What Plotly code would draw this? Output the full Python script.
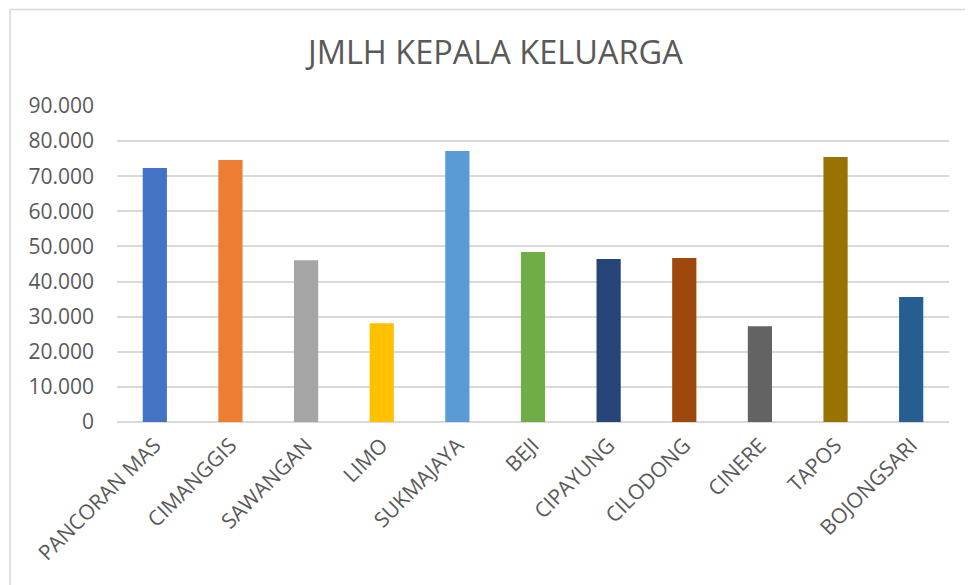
import plotly.graph_objects as go

categories = ["PANCORAN MAS", "CIMANGGIS", "SAWANGAN", "LIMO", "SUKMAJAYA", "BEJI",
              "CIPAYUNG", "CILODONG", "CINERE", "TAPOS", "BOJONGSARI"]
values = [72340, 74600, 46100, 28150, 77200, 48400, 46400, 46700, 27300, 75500, 35600]
colors = ["#4472C4", "#ED7D31", "#A5A5A5", "#FFC000", "#5B9BD5", "#70AD47",
          "#264478", "#9E480E", "#636363", "#997300", "#255E91"]
tick_vals = [0, 10000, 20000, 30000, 40000, 50000, 60000, 70000, 80000, 90000]
tick_text = ["0", "10.000", "20.000", "30.000", "40.000", "50.000", "60.000",
             "70.000", "80.000", "90.000"]

OFF = 8  # default body margin of the html page
W, H = 973 - OFF, 585 - OFF
L, R, T, B = 117 - OFF, 24, 106 - OFF, 163
pw, ph = W - L - R, H - T - B

fig = go.Figure(go.Bar(x=categories, y=values, marker=dict(color=colors, line=dict(width=0)),
                       width=0.32))

def px2x(px):
    return (px - OFF - L) / pw

def py2y(py):
    return (H - B - (py - OFF)) / ph

fig.update_layout(
    width=W, height=H,
    margin=dict(l=L, r=R, t=T, b=B),
    paper_bgcolor="white", plot_bgcolor="white",
    font=dict(family="Open Sans", color="#595959"),
    title=dict(text="JMLH KEPALA KELUARGA", x=0.505, xanchor="center",
               y=1 - (53 - OFF) / H, yanchor="middle", yref="container",
               font=dict(size=32.5, color="#595959", family="Open Sans")),
    showlegend=False,
    xaxis=dict(tickangle=-45, tickfont=dict(size=21, color="#595959"),
               showline=False, ticks="", showgrid=False, ticklabelstandoff=6),
    yaxis=dict(range=[0, 90000], tickvals=tick_vals, ticktext=tick_text,
               tickfont=dict(size=21, color="#595959"), showgrid=True,
               gridcolor="#d9d9d9", gridwidth=1.5, zeroline=True,
               zerolinecolor="#d9d9d9", zerolinewidth=1.5, ticks="",
               ticklabelstandoff=22),
    shapes=[
        dict(type="line", xref="paper", yref="paper", x0=px2x(10), x1=px2x(973),
             y0=py2y(9.5), y1=py2y(9.5), line=dict(color="#d9d9d9", width=1.5)),
        dict(type="line", xref="paper", yref="paper", x0=px2x(10), x1=px2x(10),
             y0=py2y(9.5), y1=py2y(585), line=dict(color="#d9d9d9", width=1.5)),
    ],
)

fig.write_html("out.html")
